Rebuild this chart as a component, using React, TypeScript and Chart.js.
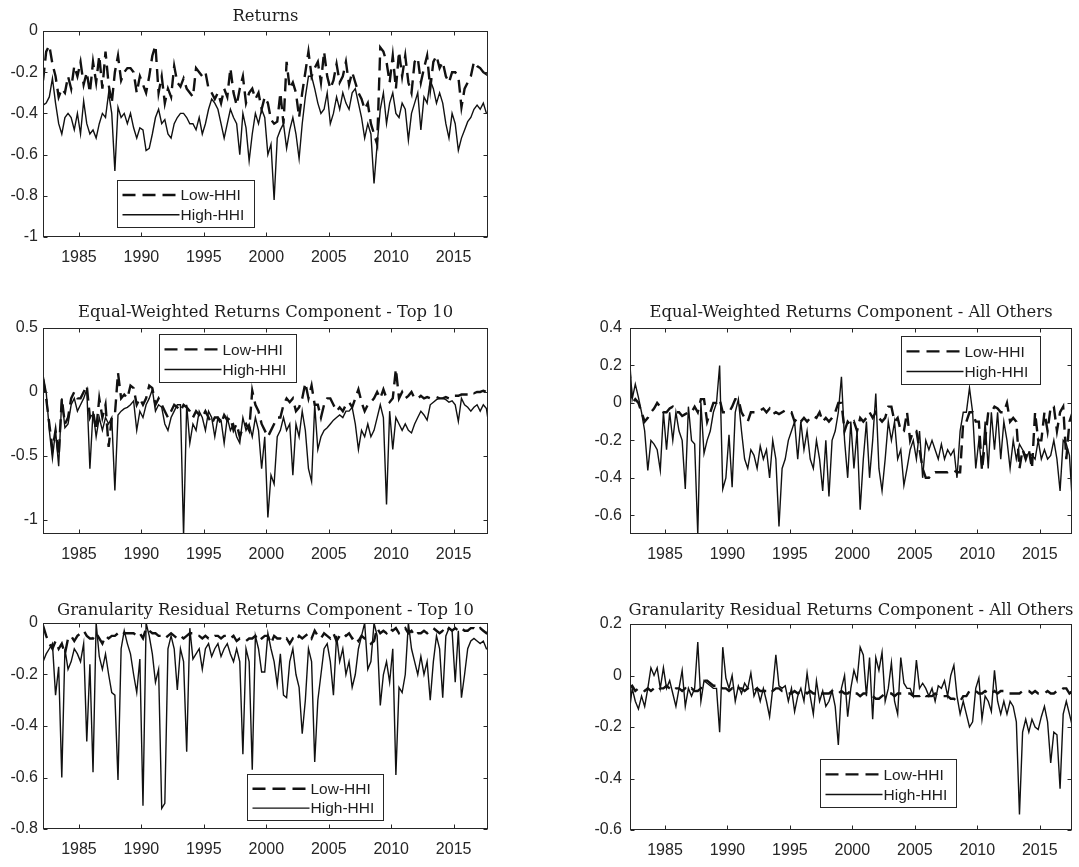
import React, { useEffect, useRef } from "react";
import { Chart, registerables } from "chart.js";

Chart.register(...registerables);

// Quarterly observations, 1982Q1 .. 2017Q4 (4 values per year)
const START_YEAR = 1982;
const PER_YEAR = 4;

const X_TICKS = [1985, 1990, 1995, 2000, 2005, 2010, 2015];
const RET_TICKS = [0, -0.2, -0.4, -0.6, -0.8, -1];
const EWT_TICKS = [0.5, 0, -0.5, -1];
const EWO_TICKS = [0.4, 0.2, 0, -0.2, -0.4, -0.6];
const GRT_TICKS = [0, -0.2, -0.4, -0.6, -0.8];
const GRO_TICKS = [0.2, 0, -0.2, -0.4, -0.6];

const SERIES_LABELS = ["Low-HHI", "High-HHI"];

const RETURNS_LOW = [
  -0.24, -0.10, -0.07, -0.16,
  -0.22, -0.32, -0.28, -0.30,
  -0.22, -0.28, -0.17, -0.22,
  -0.15, -0.26, -0.20, -0.30,
  -0.15, -0.25, -0.12, -0.28,
  -0.10, -0.26, -0.35, -0.20,
  -0.12, -0.24, -0.20, -0.18,
  -0.18, -0.20, -0.30, -0.22,
  -0.26, -0.30, -0.22, -0.12,
  -0.07, -0.30, -0.22, -0.35,
  -0.28, -0.32, -0.17, -0.25,
  -0.27, -0.23, -0.28, -0.30,
  -0.32, -0.18, -0.20, -0.22,
  -0.20, -0.28, -0.30, -0.33,
  -0.30, -0.35, -0.28, -0.32,
  -0.18, -0.30, -0.36, -0.28,
  -0.22, -0.35, -0.30, -0.28,
  -0.33, -0.30, -0.38, -0.32,
  -0.35, -0.43, -0.45, -0.44,
  -0.30, -0.45, -0.15, -0.28,
  -0.25, -0.30, -0.42, -0.30,
  -0.20, -0.10, -0.22, -0.18,
  -0.15, -0.25, -0.10, -0.22,
  -0.28, -0.24, -0.16, -0.25,
  -0.22, -0.15, -0.26, -0.20,
  -0.25, -0.30, -0.33, -0.38,
  -0.35, -0.45, -0.50, -0.55,
  -0.08, -0.10, -0.15, -0.25,
  -0.12, -0.28, -0.10, -0.22,
  -0.12, -0.25, -0.30, -0.15,
  -0.13, -0.25, -0.18, -0.12,
  -0.28, -0.15, -0.12, -0.18,
  -0.15, -0.22, -0.25, -0.20,
  -0.20, -0.22, -0.37, -0.28,
  -0.25, -0.22, -0.15, -0.17,
  -0.18, -0.20, -0.21, -0.18,
];

const RETURNS_HIGH = [
  -0.36, -0.35, -0.32, -0.23,
  -0.35, -0.45, -0.50, -0.42,
  -0.40, -0.42, -0.48, -0.40,
  -0.50, -0.34, -0.45, -0.50,
  -0.48, -0.52, -0.45, -0.40,
  -0.42, -0.30, -0.40, -0.68,
  -0.37, -0.42, -0.40, -0.45,
  -0.40, -0.47, -0.52, -0.47,
  -0.48, -0.58, -0.57, -0.50,
  -0.42, -0.38, -0.45, -0.43,
  -0.50, -0.52, -0.45, -0.42,
  -0.40, -0.40, -0.42, -0.45,
  -0.45, -0.48, -0.42, -0.50,
  -0.45, -0.38, -0.33, -0.35,
  -0.38, -0.45, -0.52, -0.45,
  -0.38, -0.42, -0.45, -0.60,
  -0.40, -0.47, -0.63, -0.50,
  -0.40, -0.45, -0.38, -0.42,
  -0.60, -0.55, -0.82, -0.52,
  -0.48, -0.45, -0.57, -0.48,
  -0.42, -0.50, -0.62, -0.45,
  -0.32, -0.22, -0.22, -0.28,
  -0.35, -0.40, -0.38, -0.30,
  -0.45, -0.40, -0.32, -0.38,
  -0.30, -0.35, -0.38, -0.30,
  -0.28, -0.35, -0.42, -0.52,
  -0.45, -0.50, -0.74, -0.55,
  -0.38, -0.30, -0.45, -0.35,
  -0.30, -0.40, -0.42, -0.35,
  -0.38, -0.53, -0.40, -0.35,
  -0.30, -0.48, -0.32, -0.35,
  -0.24, -0.28, -0.35, -0.30,
  -0.35, -0.45, -0.52, -0.40,
  -0.45, -0.58, -0.52, -0.48,
  -0.44, -0.42, -0.38, -0.36,
  -0.38, -0.35, -0.40, -0.40,
];

const EW_TOP10_LOW = [
  0.10, -0.05, -0.25, -0.45,
  -0.30, -0.50, -0.05, -0.25,
  -0.20, -0.05, 0.00, -0.05,
  -0.05, 0.00, 0.05, -0.20,
  -0.15, -0.30, -0.05, -0.20,
  -0.10, -0.43, -0.20, -0.18,
  0.15, -0.05, -0.02, -0.05,
  0.05, 0.03, -0.10, -0.05,
  -0.10, -0.05, 0.05, 0.03,
  -0.10, -0.05, -0.10, -0.15,
  -0.20, -0.15, -0.10, -0.12,
  -0.15, -0.10, -0.12, -0.15,
  -0.20, -0.15, -0.18, -0.20,
  -0.15, -0.20, -0.25, -0.20,
  -0.20, -0.25, -0.18, -0.22,
  -0.20, -0.30, -0.25, -0.35,
  -0.28, -0.25, -0.30, 0.01,
  -0.10, -0.15, -0.25, -0.30,
  -0.35, -0.30, -0.25, -0.20,
  -0.20, -0.10, -0.05, -0.08,
  -0.05, -0.15, -0.12, -0.05,
  0.07, -0.05, 0.05, -0.10,
  -0.10, -0.20, -0.10, -0.05,
  -0.05, -0.10, -0.15, -0.12,
  -0.15, -0.10, -0.08, -0.12,
  -0.05, 0.02, -0.08, -0.15,
  -0.10, -0.08, -0.05, 0.00,
  -0.05, 0.02, -0.05, -0.08,
  -0.05, 0.18, -0.05, 0.00,
  -0.05, -0.03, 0.00, -0.05,
  -0.05, -0.03, -0.05, -0.04,
  -0.05, -0.05, -0.04, -0.05,
  -0.05, -0.04, -0.05, -0.03,
  -0.03, -0.03, -0.02, -0.02,
  -0.02, 0.00, -0.01, 0.00,
  0.00, 0.01, 0.00, 0.00,
];

const EW_TOP10_HIGH = [
  0.13, 0.00, -0.30, -0.52,
  -0.30, -0.58, -0.05, -0.28,
  -0.25, -0.10, -0.05, -0.15,
  -0.10, -0.05, 0.02, -0.60,
  -0.15, -0.35, -0.20, -0.30,
  -0.20, -0.25, -0.20, -0.77,
  -0.18, -0.15, -0.13, -0.12,
  -0.10, -0.07, -0.30, -0.15,
  -0.20, -0.10, -0.05, 0.02,
  -0.15, -0.10, -0.12, -0.25,
  -0.30, -0.20, -0.15, -0.10,
  -0.10, -1.12, -0.10, -0.40,
  -0.25, -0.30, -0.15, -0.20,
  -0.30, -0.15, -0.20, -0.35,
  -0.20, -0.22, -0.40, -0.20,
  -0.30, -0.25, -0.35, -0.40,
  -0.20, -0.30, -0.25, -0.35,
  -0.20, -0.30, -0.60, -0.35,
  -0.98, -0.65, -0.72, -0.35,
  -0.30, -0.20, -0.30, -0.25,
  -0.65, -0.25, -0.35, -0.15,
  -0.30, -0.60, -0.70, -0.10,
  -0.45, -0.35, -0.30, -0.28,
  -0.25, -0.22, -0.20, -0.18,
  -0.20, -0.15, -0.15, -0.12,
  -0.25, -0.45, -0.30, -0.35,
  -0.25, -0.35, -0.30, -0.20,
  -0.10, -0.20, -0.88, -0.15,
  -0.45, -0.20, -0.25, -0.30,
  -0.25, -0.30, -0.32, -0.25,
  -0.20, -0.15, -0.18, -0.22,
  -0.10, -0.08, -0.06, -0.05,
  -0.05, -0.06, -0.08, -0.07,
  -0.10, -0.23, -0.05, -0.10,
  -0.12, -0.15, -0.12, -0.10,
  -0.15, -0.10, -0.13, -0.30,
];

const EW_OTHERS_LOW = [
  0.20, 0.00, 0.02, 0.00,
  -0.05, -0.10, -0.08, -0.05,
  -0.03, 0.00, -0.02, -0.05,
  -0.05, -0.03, -0.02, -0.05,
  -0.05, -0.07, -0.06, -0.05,
  -0.05, -0.02, -0.05, 0.02,
  0.02, -0.10, -0.05, 0.00,
  0.00, 0.02, -0.05, -0.05,
  -0.05, -0.02, 0.02, 0.02,
  -0.05, -0.08, -0.10, -0.05,
  -0.05, -0.05, -0.04, -0.03,
  -0.05, -0.03, -0.06, -0.05,
  -0.06, -0.05, -0.04, -0.05,
  -0.05, -0.10, -0.08, -0.10,
  -0.08, -0.10, -0.08, -0.07,
  -0.08, -0.05, -0.10, -0.08,
  -0.10, -0.08, -0.05, 0.00,
  0.00, -0.15, -0.10, -0.12,
  -0.10, -0.15, -0.08, -0.10,
  -0.08, -0.05, -0.08, -0.05,
  -0.08, -0.10, -0.08, -0.02,
  -0.02, -0.10, -0.08, -0.15,
  -0.15, -0.05, -0.20, -0.15,
  -0.15, -0.25, -0.35, -0.40,
  -0.40, -0.38, -0.37, -0.37,
  -0.37, -0.37, -0.37, -0.36,
  -0.36, -0.37, -0.37, -0.10,
  -0.10, -0.05, -0.05, -0.10,
  -0.10, -0.36, -0.20, -0.05,
  -0.05, -0.02, -0.03, -0.05,
  -0.05, 0.00, -0.10, -0.08,
  -0.10, -0.35, -0.25, -0.30,
  -0.25, -0.35, -0.05, -0.20,
  -0.20, -0.05, -0.15, -0.02,
  -0.02, -0.15, -0.05, -0.02,
  -0.30, -0.10, -0.05, 0.00,
];

const EW_OTHERS_HIGH = [
  0.28, 0.02, 0.10, 0.03,
  -0.05, -0.15, -0.36, -0.20,
  -0.22, -0.25, -0.36, -0.05,
  -0.25, -0.05, -0.20, -0.05,
  -0.15, -0.20, -0.46, -0.02,
  -0.20, -0.22, -0.70, 0.00,
  -0.27, -0.20, -0.15, -0.05,
  0.00, 0.20, -0.46, -0.40,
  -0.17, -0.45, -0.05, 0.02,
  -0.15, -0.30, -0.35, -0.25,
  -0.28, -0.35, -0.23, -0.30,
  -0.25, -0.40, -0.20, -0.30,
  -0.66, -0.35, -0.30, -0.20,
  -0.15, -0.10, -0.30, -0.10,
  -0.25, -0.15, -0.30, -0.35,
  -0.20, -0.30, -0.47, -0.20,
  -0.50, -0.20, -0.15, -0.05,
  0.14, -0.20, -0.40, -0.10,
  -0.35, -0.15, -0.57, -0.30,
  -0.10, -0.40, -0.20, 0.05,
  -0.35, -0.47, -0.30, -0.10,
  -0.20, -0.10, -0.30, -0.25,
  -0.44, -0.35, -0.25, -0.20,
  -0.30, -0.15, -0.40, -0.20,
  -0.25, -0.20, -0.25, -0.30,
  -0.22, -0.30, -0.25, -0.28,
  -0.25, -0.40, -0.15, -0.05,
  -0.05, 0.08, -0.05, -0.35,
  -0.20, -0.35, -0.10, -0.35,
  -0.05, -0.25, -0.05, -0.30,
  -0.10, -0.20, -0.35, -0.20,
  -0.30, -0.22, -0.25, -0.28,
  -0.27, -0.28, -0.30, -0.20,
  -0.30, -0.25, -0.30, -0.28,
  -0.20, -0.30, -0.47, -0.20,
  -0.22, -0.28, -0.55, -0.50,
];

const GR_TOP10_LOW = [
  -0.01, -0.05, -0.08, -0.10,
  -0.07, -0.10, -0.08, -0.12,
  -0.06, -0.05, -0.07, -0.05,
  -0.04, -0.03, -0.05, -0.06,
  -0.06, -0.04, -0.06, -0.08,
  -0.05, -0.06, -0.05, -0.05,
  -0.04, -0.03, -0.04, -0.04,
  -0.04, -0.04, -0.05, -0.04,
  -0.06, -0.02, -0.03, -0.04,
  -0.04, -0.05, -0.05, -0.06,
  -0.05, -0.04, -0.05, -0.06,
  -0.05, -0.06, -0.05, -0.04,
  -0.04, -0.05, -0.05, -0.06,
  -0.05, -0.06, -0.06, -0.05,
  -0.05, -0.06, -0.05, -0.05,
  -0.06, -0.05, -0.07, -0.06,
  -0.06, -0.07, -0.06, -0.06,
  -0.05, -0.07, -0.06, -0.05,
  -0.05, -0.08, -0.05, -0.06,
  -0.06, -0.07, -0.06, -0.08,
  -0.06, -0.07, -0.05, -0.06,
  -0.05, -0.04, -0.06, -0.03,
  -0.05, -0.06, -0.04, -0.05,
  -0.06, -0.04, -0.07, -0.05,
  -0.04, -0.05, -0.04, -0.06,
  -0.05, -0.07, -0.05, -0.06,
  -0.06, -0.08, -0.07, -0.02,
  -0.04, -0.03, -0.04, -0.02,
  -0.03, -0.02, -0.04, -0.03,
  -0.02, -0.04, -0.03, -0.05,
  -0.04, -0.04, -0.03, -0.04,
  -0.03, -0.02, -0.03, -0.04,
  -0.03, -0.04, -0.02, -0.03,
  -0.02, -0.03, -0.02, -0.03,
  -0.03, -0.02, -0.02, -0.03,
  -0.02, -0.03, -0.04, -0.03,
];

const GR_TOP10_HIGH = [
  -0.15, -0.12, -0.10, -0.08,
  -0.28, -0.17, -0.60, -0.10,
  -0.18, -0.15, -0.10, -0.12,
  -0.15, -0.08, -0.46, -0.16,
  -0.58, 0.00, -0.13, -0.18,
  -0.12, -0.20, -0.27, -0.28,
  -0.61, -0.10, -0.03, -0.08,
  -0.12, -0.20, -0.27, -0.14,
  -0.71, 0.00, -0.05, -0.12,
  -0.23, -0.18, -0.72, -0.70,
  -0.10, -0.05, -0.10, -0.26,
  -0.10, -0.15, -0.50, -0.02,
  -0.14, -0.12, -0.10, -0.18,
  -0.10, -0.08, -0.13, -0.10,
  -0.08, -0.13, -0.10, -0.08,
  -0.12, -0.15, -0.10, -0.15,
  -0.51, -0.10, -0.15, -0.57,
  -0.05, -0.10, -0.19, -0.19,
  -0.04, -0.10, -0.15, -0.24,
  -0.12, -0.28, -0.29, -0.15,
  -0.10, -0.20, -0.25, -0.43,
  -0.30, -0.10, -0.15, -0.54,
  -0.30, -0.20, -0.10, -0.08,
  -0.15, -0.28, -0.05, -0.15,
  -0.10, -0.20, -0.15, -0.25,
  -0.20, -0.10, -0.05, 0.00,
  -0.18, -0.15, 0.00, -0.05,
  -0.32, -0.20, -0.15, -0.23,
  -0.10, -0.59, -0.25, -0.27,
  -0.20, 0.00, -0.10, -0.15,
  -0.20, -0.13, -0.20, -0.15,
  -0.30, -0.15, -0.05, -0.10,
  -0.29, -0.05, -0.02, -0.03,
  -0.23, -0.03, -0.29, -0.20,
  -0.10, -0.07, -0.06, -0.07,
  -0.08, -0.07, -0.10, -0.10,
];

const GR_OTHERS_LOW = [
  -0.05, -0.04, -0.06, -0.05,
  -0.05, -0.06, -0.05, -0.06,
  -0.05, -0.06, -0.05, -0.05,
  -0.04, -0.05, -0.06, -0.05,
  -0.05, -0.06, -0.05, -0.06,
  -0.05, -0.06, -0.06, -0.05,
  -0.02, -0.02, -0.03, -0.04,
  -0.04, -0.04, -0.05, -0.05,
  -0.06, -0.05, -0.06, -0.05,
  -0.05, -0.06, -0.05, -0.06,
  -0.06, -0.05, -0.06, -0.06,
  -0.06, -0.05, -0.06, -0.05,
  -0.05, -0.06, -0.06, -0.07,
  -0.07, -0.06, -0.07, -0.06,
  -0.06, -0.07, -0.06, -0.07,
  -0.07, -0.06, -0.07, -0.07,
  -0.07, -0.06, -0.07, -0.07,
  -0.06, -0.07, -0.07, -0.06,
  -0.07, -0.07, -0.08, -0.07,
  -0.07, -0.08, -0.08, -0.09,
  -0.09, -0.08, -0.07, -0.07,
  -0.07, -0.08, -0.07, -0.07,
  -0.07, -0.07, -0.07, -0.08,
  -0.08, -0.08, -0.07, -0.08,
  -0.08, -0.08, -0.07, -0.08,
  -0.08, -0.08, -0.08, -0.09,
  -0.09, -0.10, -0.10, -0.08,
  -0.08, -0.06, -0.06, -0.06,
  -0.07, -0.07, -0.06, -0.07,
  -0.07, -0.06, -0.07, -0.06,
  -0.06, -0.07, -0.07, -0.07,
  -0.07, -0.07, -0.06, -0.06,
  -0.06, -0.07, -0.06, -0.07,
  -0.07, -0.07, -0.06, -0.07,
  -0.07, -0.06, -0.06, -0.05,
  -0.05, -0.07, -0.06, -0.07,
];

const GR_OTHERS_HIGH = [
  -0.15, -0.05, -0.10, -0.13,
  -0.08, -0.12, -0.05, 0.03,
  0.00, 0.03, -0.05, 0.03,
  -0.05, -0.02, -0.07, -0.12,
  -0.05, 0.02, -0.12, -0.05,
  -0.08, -0.05, 0.13, -0.10,
  -0.02, -0.03, -0.04, -0.05,
  -0.05, -0.22, 0.11, -0.01,
  -0.05, 0.00, -0.10, -0.04,
  -0.07, -0.03, -0.05, 0.01,
  -0.08, -0.05, -0.10, -0.05,
  -0.10, -0.16, -0.05, 0.08,
  -0.04, -0.05, -0.04, -0.10,
  -0.05, -0.14, -0.08, -0.05,
  -0.10, 0.01, -0.08, -0.15,
  -0.02, -0.10, -0.06, -0.12,
  -0.10, -0.06, -0.12, -0.27,
  -0.05, 0.00, -0.16, -0.05,
  0.02, -0.02, 0.11, 0.08,
  -0.08, 0.07, -0.17, 0.07,
  0.02, 0.09, -0.10, -0.05,
  0.05, -0.10, -0.15, 0.07,
  -0.03, -0.05, -0.05, -0.08,
  0.06, -0.05, -0.03, -0.05,
  -0.08, -0.05, -0.10, -0.04,
  -0.05, -0.02, -0.08, 0.00,
  0.04, -0.08, -0.15, -0.10,
  -0.15, -0.20, -0.18, -0.05,
  -0.01, -0.17, -0.08, -0.10,
  -0.14, 0.02, -0.10, -0.15,
  -0.10, -0.15, -0.10, -0.12,
  -0.18, -0.54, -0.22, -0.17,
  -0.22, -0.17, -0.20, -0.21,
  -0.16, -0.12, -0.18, -0.34,
  -0.22, -0.23, -0.44, -0.15,
  -0.10, -0.15, -0.20, -0.17,
];

const toPoints = (arr: number[]) =>
  arr.map((v, i) => ({ x: START_YEAR + (i + 0.5) / PER_YEAR, y: v }));

const fmtTick = (v: number) => {
  const r = Math.round(v * 100) / 100;
  return r === 0 ? "0" : String(r);
};

type PanelCfg = {
  title: string;
  low: number[];
  high: number[];
  yMin: number;
  yMax: number;
  yTicks: number[];
  xMin: number;
  xMax: number;
  rect: { l: number; t: number; r: number; b: number };
  legend: { x: number; y: number; w: number; h: number };
  titleGap: number;
  yPad: number;
};

const PANELS: PanelCfg[] = [
  {
    title: "Returns", low: RETURNS_LOW, high: RETURNS_HIGH,
    yMin: -1, yMax: 0, yTicks: RET_TICKS, xMin: 1982.12, xMax: 2017.75,
    rect: { l: 43, t: 31, r: 488, b: 237 },
    legend: { x: 117, y: 180, w: 137, h: 47 }, titleGap: 10, yPad: 5,
  },
  {
    title: "Equal-Weighted Returns Component - Top 10", low: EW_TOP10_LOW, high: EW_TOP10_HIGH,
    yMin: -1.11, yMax: 0.5, yTicks: EWT_TICKS, xMin: 1982.12, xMax: 2017.75,
    rect: { l: 43, t: 328, r: 488, b: 534 },
    legend: { x: 159, y: 334, w: 137, h: 48 }, titleGap: 11.5, yPad: 5,
  },
  {
    title: "Equal-Weighted Returns Component - All Others", low: EW_OTHERS_LOW, high: EW_OTHERS_HIGH,
    yMin: -0.7, yMax: 0.4, yTicks: EWO_TICKS, xMin: 1982.2, xMax: 2017.58,
    rect: { l: 630, t: 328, r: 1072, b: 534 },
    legend: { x: 901, y: 336, w: 139, h: 48 }, titleGap: 11.5, yPad: 8,
  },
  {
    title: "Granularity Residual Returns Component - Top 10", low: GR_TOP10_LOW, high: GR_TOP10_HIGH,
    yMin: -0.8, yMax: 0, yTicks: GRT_TICKS, xMin: 1982.12, xMax: 2017.75,
    rect: { l: 43, t: 623, r: 488, b: 829 },
    legend: { x: 247, y: 774, w: 136, h: 46 }, titleGap: 8.5, yPad: 5,
  },
  {
    title: "Granularity Residual Returns Component - All Others", low: GR_OTHERS_LOW, high: GR_OTHERS_HIGH,
    yMin: -0.6, yMax: 0.2, yTicks: GRO_TICKS, xMin: 1982.2, xMax: 2017.58,
    rect: { l: 630, t: 624, r: 1072, b: 830 },
    legend: { x: 820, y: 759, w: 136, h: 48 }, titleGap: 9, yPad: 8,
  },
];

const PADL = 44;
const PADT = 30;
const PADR = 12;
const PADB = 34;
const INK = "#262626";
const LINE = "#111111";
const DASH = [13, 7];
const DASH_W = 2.4;
const SOLID_W = 1.4;

function framePlugin(cfg: PanelCfg, offX: number, offY: number) {
  return {
    id: "frame",
    afterDraw(chart: any) {
      const { ctx, chartArea: a, scales } = chart;
      ctx.save();
      ctx.strokeStyle = INK;
      ctx.lineWidth = 1;
      const L = Math.round(a.left) + 0.5;
      const R = Math.round(a.right) - 0.5;
      const T = Math.round(a.top) + 0.5;
      const B = Math.round(a.bottom) - 0.5;
      ctx.strokeRect(L, T, R - L, B - T);
      ctx.beginPath();
      X_TICKS.forEach((v) => {
        const px = Math.round(scales.x.getPixelForValue(v)) + 0.5;
        ctx.moveTo(px, B); ctx.lineTo(px, B - 4);
        ctx.moveTo(px, T); ctx.lineTo(px, T + 4);
      });
      cfg.yTicks.forEach((v) => {
        const py = Math.round(scales.y.getPixelForValue(v)) + 0.5;
        ctx.moveTo(L, py); ctx.lineTo(L + 4, py);
        ctx.moveTo(R, py); ctx.lineTo(R - 4, py);
      });
      ctx.stroke();

      // title
      ctx.fillStyle = "#1e1e1e";
      ctx.font = '16.4px "DejaVu Serif"';
      ctx.textAlign = "center";
      ctx.textBaseline = "alphabetic";
      ctx.fillText(cfg.title, (a.left + a.right) / 2, a.top - cfg.titleGap);

      // legend
      const lg = cfg.legend;
      const lx = Math.round(lg.x - offX) + 0.5;
      const ly = Math.round(lg.y - offY) + 0.5;
      ctx.fillStyle = "#ffffff";
      ctx.fillRect(lx, ly, lg.w, lg.h);
      ctx.strokeStyle = INK;
      ctx.lineWidth = 1;
      ctx.strokeRect(lx, ly, lg.w, lg.h);
      const rowsY = [ly + lg.h * 0.31, ly + lg.h * 0.73];
      SERIES_LABELS.forEach((label, i) => {
        const y = rowsY[i];
        ctx.beginPath();
        ctx.strokeStyle = LINE;
        if (i === 0) {
          ctx.setLineDash(DASH);
          ctx.lineWidth = DASH_W;
        } else {
          ctx.setLineDash([]);
          ctx.lineWidth = SOLID_W;
        }
        ctx.moveTo(lx + 5, y);
        ctx.lineTo(lx + 62, y);
        ctx.stroke();
        ctx.setLineDash([]);
        ctx.fillStyle = "#1e1e1e";
        ctx.font = '15.5px "Liberation Sans"';
        ctx.textAlign = "left";
        ctx.textBaseline = "middle";
        ctx.fillText(label, lx + 63, y + 1);
      });
      ctx.restore();
    },
  };
}

function Panel({ cfg }: { cfg: PanelCfg }) {
  const ref = useRef<HTMLCanvasElement>(null);
  const left = cfg.rect.l - PADL;
  const top = cfg.rect.t - PADT;
  const w = cfg.rect.r - cfg.rect.l + PADL + PADR;
  const h = cfg.rect.b - cfg.rect.t + PADT + PADB;

  useEffect(() => {
    if (!ref.current) return;
    const tickFont = { family: '"Liberation Sans", Arial, sans-serif', size: 16 };
    const chart = new Chart(ref.current, {
      type: "line",
      data: {
        datasets: [
          {
            label: SERIES_LABELS[0],
            data: toPoints(cfg.low),
            borderColor: LINE,
            borderWidth: DASH_W,
            borderDash: DASH,
            pointRadius: 0,
            fill: false,
            tension: 0,
          },
          {
            label: SERIES_LABELS[1],
            data: toPoints(cfg.high),
            borderColor: LINE,
            borderWidth: SOLID_W,
            pointRadius: 0,
            fill: false,
            tension: 0,
          },
        ],
      },
      options: {
        responsive: false,
        animation: false,
        events: [],
        layout: { padding: { left: 0, top: PADT, right: PADR, bottom: 0 } },
        plugins: {
          legend: { display: false },
          title: { display: false },
          tooltip: { enabled: false },
        },
        scales: {
          x: {
            type: "linear",
            min: cfg.xMin,
            max: cfg.xMax,
            grid: { display: false, drawTicks: false },
            border: { display: false },
            afterBuildTicks: (s: any) => {
              s.ticks = X_TICKS.map((v) => ({ value: v }));
            },
            afterFit: (s: any) => {
              s.height = PADB;
            },
            ticks: {
              font: tickFont,
              color: INK,
              padding: 11,
              maxRotation: 0,
              autoSkip: false,
              callback: (v: any) => String(v),
            },
          },
          y: {
            type: "linear",
            min: cfg.yMin,
            max: cfg.yMax,
            grid: { display: false, drawTicks: false },
            border: { display: false },
            afterBuildTicks: (s: any) => {
              s.ticks = cfg.yTicks.map((v) => ({ value: v }));
            },
            afterFit: (s: any) => {
              s.width = PADL;
            },
            ticks: {
              font: tickFont,
              color: INK,
              padding: cfg.yPad,
              autoSkip: false,
              callback: (v: any) => fmtTick(Number(v)),
            },
          },
        },
      },
      plugins: [framePlugin(cfg, left, top)],
    } as any);
    return () => chart.destroy();
  }, []);

  return (
    <canvas
      ref={ref}
      width={w}
      height={h}
      style={{ position: "absolute", left, top, width: w, height: h }}
    />
  );
}

export default function App() {
  return (
    <div
      style={{
        position: "absolute",
        left: 0,
        top: 0,
        width: 1079,
        height: 867,
        overflow: "hidden",
        background: "#ffffff",
      }}
    >
      {PANELS.map((p) => (
        <Panel key={p.title} cfg={p} />
      ))}
    </div>
  );
}
